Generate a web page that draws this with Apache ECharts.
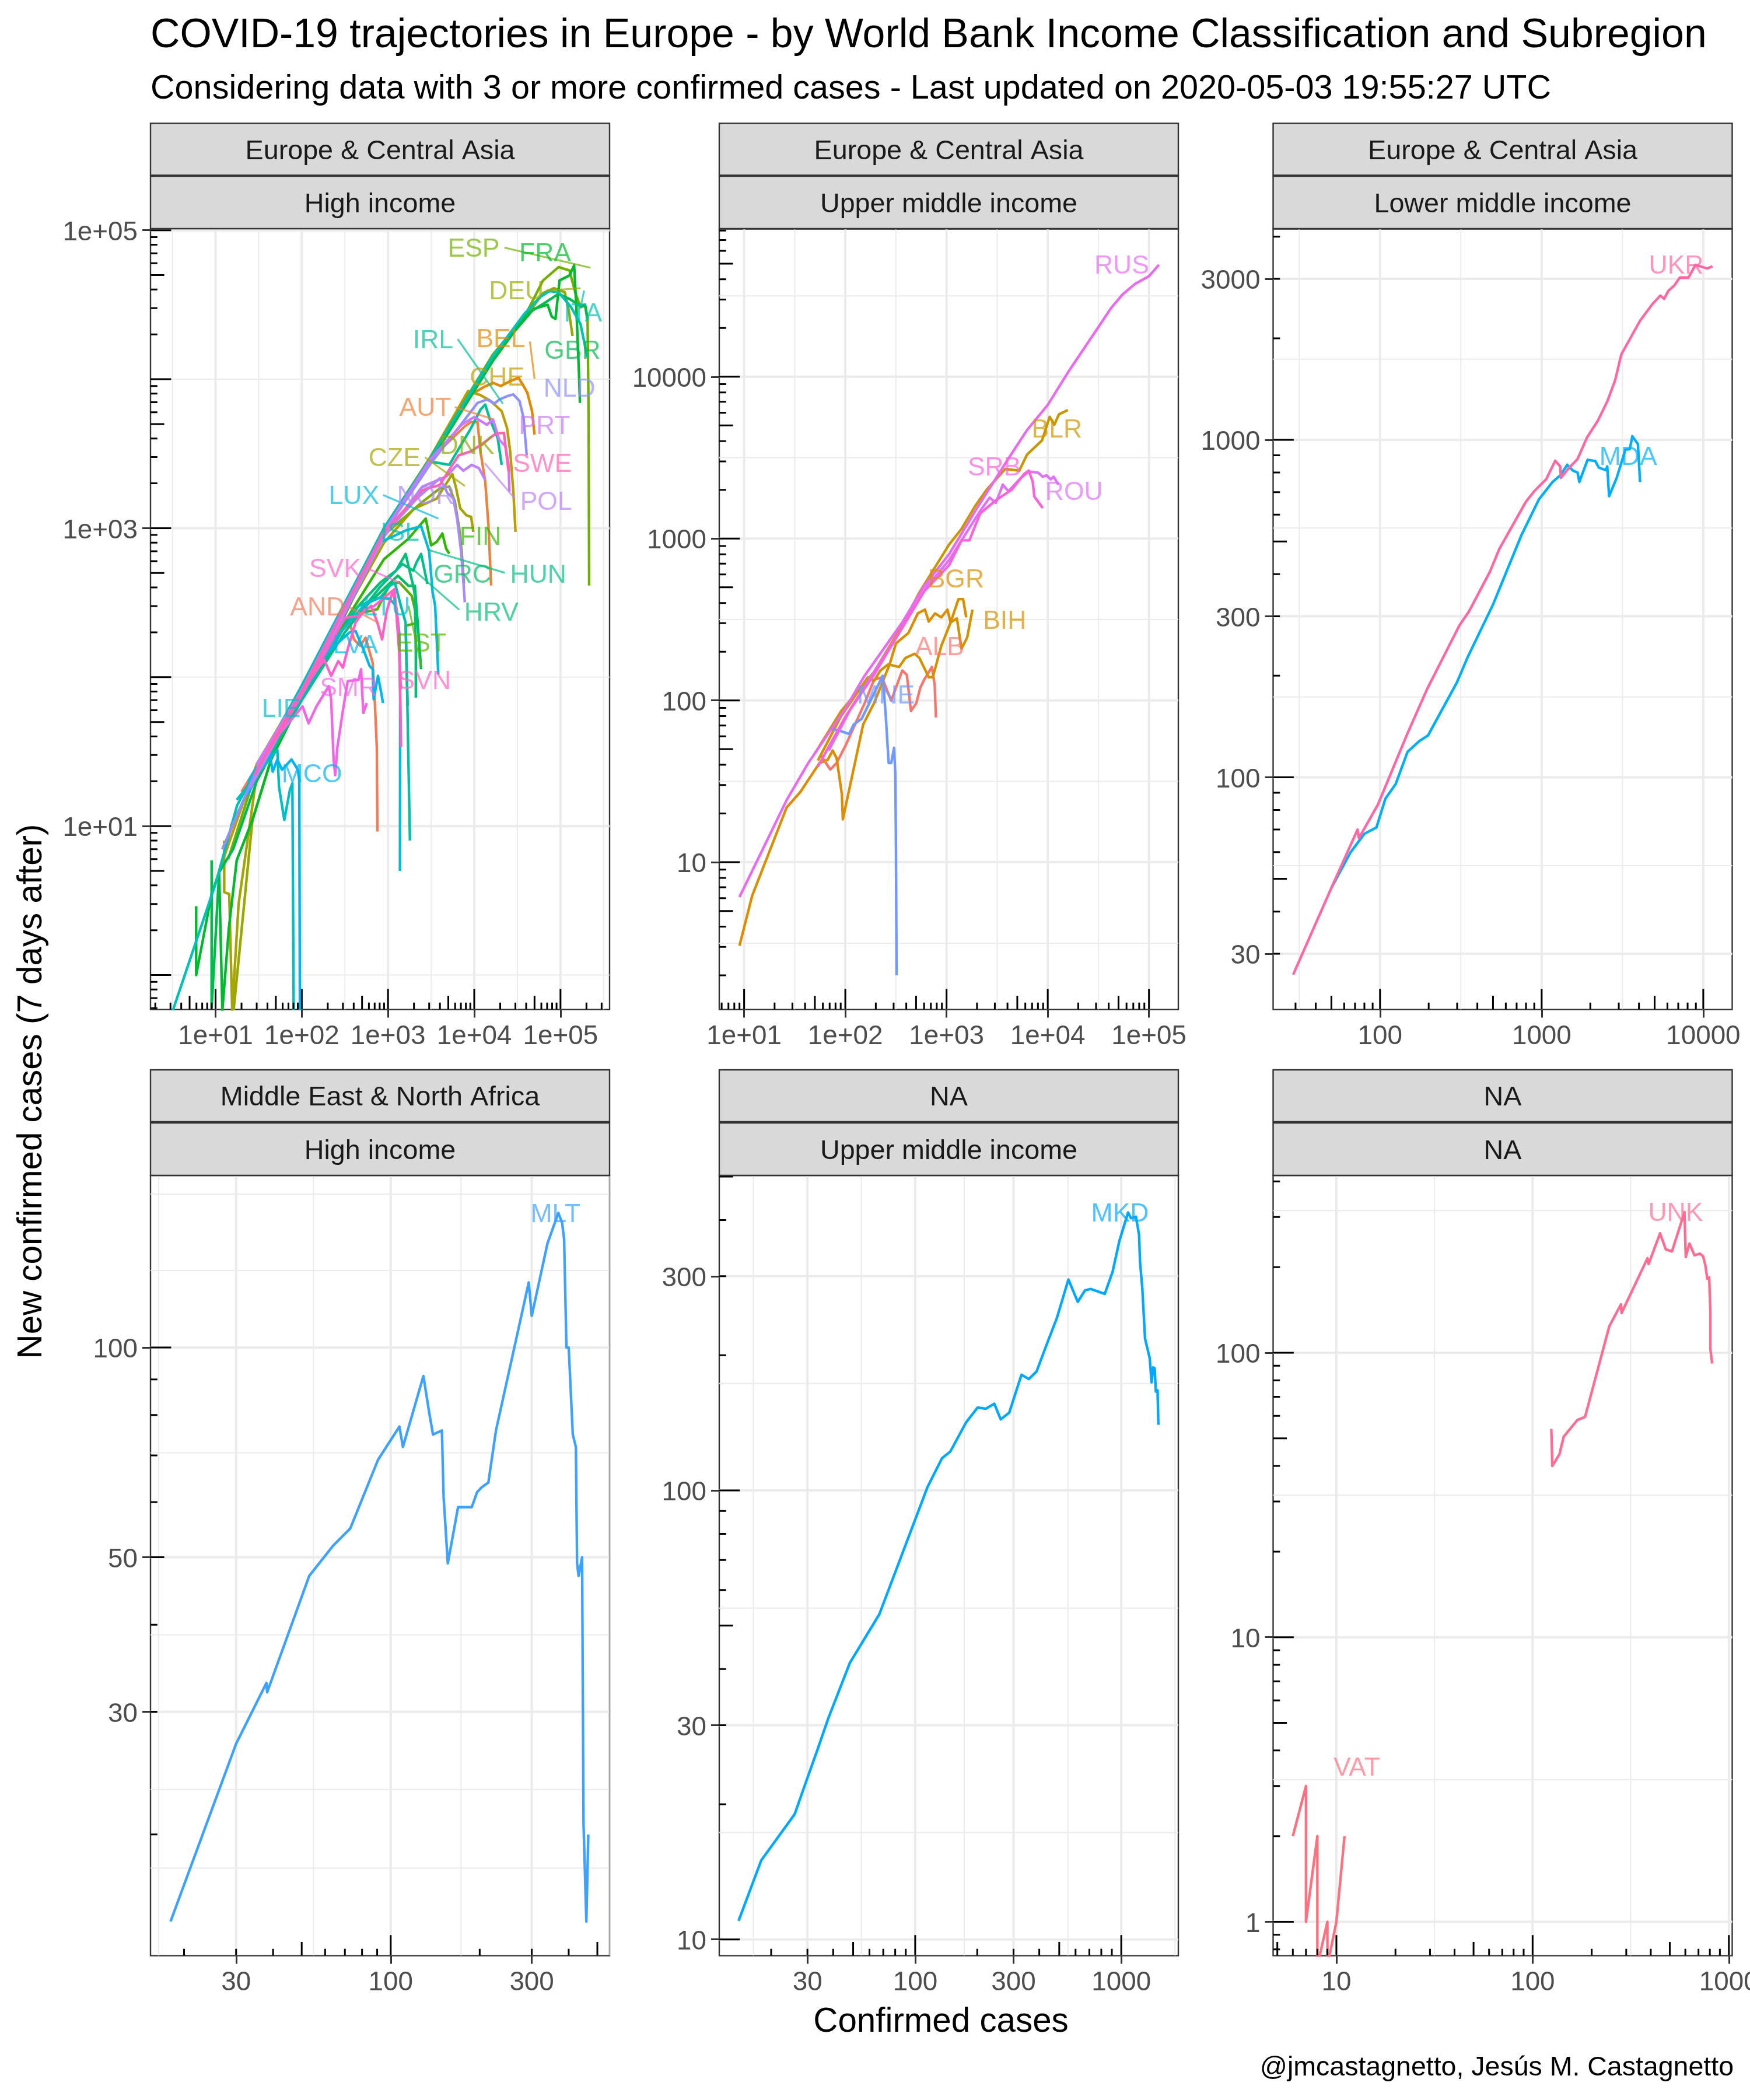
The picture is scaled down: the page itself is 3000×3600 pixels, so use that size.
<!DOCTYPE html>
<html><head><meta charset="utf-8">
<script src="https://cdn.jsdelivr.net/npm/echarts@6/dist/echarts.min.js"></script>
<style>html,body{margin:0;padding:0;background:#fff}#c{width:3000px;height:3600px}</style>
</head><body><div id="c"></div>
<script>
// ---------- tick breaks and labels ----------
const xBreaksA=[10,100,1000,10000,100000], xLabelsA=['1e+01','1e+02','1e+03','1e+04','1e+05'];
const yBreaksA=[10,1000,100000], yLabelsA=['1e+01','1e+03','1e+05'];
const yMinorA=[1,100,10000], xMinorA=[3.16,31.6,316,3162,31623,316228];
const xBreaksB=[10,100,1000,10000,100000], xLabelsB=xLabelsA;
const yBreaksB=[10,100,1000,10000], yLabelsB=['10','100','1000','10000'];
const yMinorB=[3.16,31.6,316,3162,31623], xMinorB=[31.6,316,3162,31623];
const xBreaksC=[100,1000,10000], xLabelsC=['100','1000','10000'];
const yBreaksC=[30,100,300,1000,3000], yLabelsC=['30','100','300','1000','3000'];
const yMinorC=[54.7,173,548,1734], xMinorC=[31.6,316,3162];
const xBreaksD=[30,100,300], xLabelsD=['30','100','300'];
const yBreaksD=[30,50,100], yLabelsD=['30','50','100'];
const yMinorD=[17.9,23.2,38.7,70.6,129,166], xMinorD=[16.4,54.8,173,550];
const xBreaksE=[30,100,300,1000], xLabelsE=['30','100','300','1000'];
const yBreaksE=[10,30,100,300], yLabelsE=['10','30','100','300'];
const yMinorE=[17.3,54.7,173], xMinorE=[16.4,54.8,173,551,1824];
const xBreaksF=[10,100,1000], xLabelsF=['10','100','1000'];
const yBreaksF=[1,10,100], yLabelsF=['1','10','100'];
const yMinorF=[3.16,31.6,316], xMinorF=[31.6,316];

// ---------- series values: [confirmed, new cases 7 days after] ----------
const AND=[[20,17],[52,42],[100,78],[198,131],[277,199],[361,232],[403,179],[476,162],[549,184],[664,125],[704,67],[741,34],[753,9.2]];
const AUT=[[12,7],[30,24],[100,80],[316,285],[900,960],[3100,2900],[7780,4830],[9200,5160],[10900,5160],[11800,3280],[13400,2060],[14600,1050],[15700,412]];
const BEL=[[15,10],[52,40],[100,78],[316,290],[900,950],[3100,2850],[9200,7900],[12900,8850],[16500,9460],[20300,9000],[27200,9820],[32700,10200],[36400,9230],[41300,8100],[46800,6100],[50000,4250]];
const CHE=[[11,5],[30,26],[100,85],[316,305],[900,1000],[3100,3000],[8470,8320],[11800,7820],[15200,7200],[20800,6100],[24000,4710],[26100,3280],[28400,1760],[30100,944]];
const CZE=[[12.6,8],[12.6,3.6],[14.4,3.5],[15.6,0.58],[18.5,3],[30,22],[100,80],[316,270],[900,800],[2000,1350],[3670,1580],[5570,2310],[6170,1850],[6870,1360],[8110,1220],[9200,1190],[9750,944]];
const DEU=[[16.2,0.58],[26.8,11],[44,28],[62.7,42],[100,76],[316,275],[900,950],[3100,2900],[16500,14000],[38000,25400],[62700,37800],[84000,40800],[112000,38400],[125000,28800],[138000,19500]];
const DNK=[[30,24],[100,80],[316,260],[900,900],[2500,1500],[3990,1850],[5130,1900],[5960,1510],[6700,995],[7160,692],[7590,424]];
const ESP=[[14,6],[30,24],[100,86],[316,310],[900,1000],[3100,3000],[16500,14700],[38000,26000],[62700,46000],[95100,56600],[127000,53700],[150000,37400],[171000,30400],[193000,31200],[206000,26000],[212000,5500],[215000,412]];
const EST=[[40,33],[100,78],[300,230],[500,270],[753,286],[1050,420],[1350,433],[1880,352],[2230,232],[1600,221],[1690,64]];
const FIN=[[40,30],[100,76],[316,235],[900,620],[1730,851],[2420,1070],[2740,1160],[3160,767],[3670,809],[4270,920],[4720,729],[5130,675]];
const FRA=[[5.96,2.9],[5.96,1],[9,3.5],[11,4.9],[12,0.58],[14.3,2.1],[17.6,5.9],[26.8,11],[44,27.9],[100,72],[316,265],[900,930],[3100,2800],[16500,13300],[29600,21100],[48800,29600],[71000,31600],[79200,26300],[87500,25400],[97500,46000],[127000,49700],[144000,58100],[152000,32000],[164000,10800],[168000,6930]];
const GBR=[[9,5.9],[9,0.6],[11,4.9],[16,7],[30,20],[100,74],[316,280],[900,950],[3100,2850],[16500,13600],[38000,26700],[62700,32000],[95100,37400],[127000,34600],[171000,31000],[193000,31600],[205000,25000]];
const GRC=[[40,30],[100,72],[316,220],[889,390],[1300,480],[1730,410],[2050,410],[2190,245],[2420,113]];
const HRV=[[40,32],[100,74],[300,210],[456,301],[819,433],[1240,519],[1600,671],[1960,410],[2050,352],[2100,146],[2100,72.6]];
const HUN=[[40,28],[100,70],[316,200],[800,400],[1470,575],[1960,519],[2140,590],[2420,671],[2860,422]];
const IRL=[[24,19],[100,80],[316,300],[900,960],[3100,2800],[5130,2660],[9200,4710],[11800,6250],[13400,6760],[15200,5360],[18700,4030],[20800,2660]];
const ISL=[[30,26],[100,80],[277,221],[456,301],[819,343],[1050,410],[1200,430],[1410,301],[1600,232],[1660,87],[1795,8]];
const ITA=[[3.2,0.58],[10,4.1],[17.8,13.8],[52,44],[100,88],[316,316],[906,1010],[3100,2950],[16500,14300],[38000,27400],[57700,35500],[74100,39000],[95100,38400],[133000,30400],[171000,23400],[205000,14000]];
const LIE=[[17.6,15],[52,32.6],[54.4,18.4],[62.7,11],[72.8,17.5],[77.8,19.4],[79.2,3],[80.5,0.58]];
const LTU=[[40,33],[100,80],[277,199],[540,309],[819,343],[1050,334],[1240,301],[1350,199],[1383,78],[1375,5]];
const LUX=[[24,20],[100,82],[316,312],[800,800],[1600,964],[2420,1030],[2990,706],[3290,371],[3520,301],[3670,179],[3830,104]];
const LVA=[[40,32],[100,74],[198,146],[356,199],[420,204],[517,154],[611,119],[664,113],[681,71],[765,102],[819,83],[875,67]];
const MCO=[[23.6,16.2],[37.3,27.9],[42.4,30.9],[46,23.2],[52,28],[59,23.9],[76,28],[90,23.9],[93.5,20.4],[95,0.58]];
const NLD=[[12,7],[30,24],[100,78],[316,285],[900,930],[3100,2700],[7780,5360],[10900,6930],[14000,7300],[17200,6880],[19500,7300],[24000,7690],[28400,7900],[33500,7130],[37300,5500],[40600,3080]];
const NOR=[[30,25],[100,80],[316,290],[900,900],[2200,1600],[3990,2160],[4920,1710],[5720,1580],[6320,1160],[7050,692],[7780,318]];
const POL=[[25,18],[100,78],[316,270],[900,880],[2500,1900],[4720,2220],[6320,2660],[7470,2430],[9350,2660],[11300,2530],[13400,2110]];
const PRT=[[30,26],[100,82],[316,300],[900,950],[3100,2900],[7160,4950],[10000,5580],[14000,4950],[16500,5360],[19500,3930],[23000,3540],[25000,2660],[25600,1760]];
const SMR=[[35.8,28.3],[48,38],[69.8,49],[102,63.7],[120,49],[148,63.7],[206,87],[219,71],[234,27.9],[244,22],[259,34],[301,60.5],[341,94],[456,96],[487,113],[517,57.5],[567,67]];
const SVK=[[40,32],[100,80],[182,131],[219,102],[265,128],[300,116],[341,154],[420,232],[540,286],[693,301],[1190,390],[1350,146],[1409,83]];
const SVN=[[40,31],[100,76],[316,250],[456,258],[637,301],[753,232],[853,179],[968,279],[1143,380],[1294,245],[1350,154],[1383,78],[1419,34]];
const SWE=[[28,22],[100,80],[316,295],[900,940],[2500,1800],[3990,1950],[5570,2660],[6590,3080],[9200,3280],[12300,3670],[17900,4330],[22100,4360],[23400,3280],[25000,2400]];

const ALB=[[57,46],[71,37.4],[82,41],[101,53],[155,96],[192,134],[230,139],[284,99.5],[365,153],[405,144],[445,86],[502,96],[551,120],[600,134],[717,161],[764,124],[785,78.5]];
const BGR=[[9,3.05],[12,6.2],[26.3,21.8],[36,27.2],[55.5,41],[67,43],[75,49],[82,44],[92.5,26.2],[94.5,18.4],[150,71],[192,96],[274,167],[316,225],[420,261],[520,345],[612,364],[667,307],[770,345],[887,326],[1021,364],[1097,303],[1310,422],[1458,422],[1565,326]];
const BIH=[[53.5,42.5],[91,80],[167,139],[192,132],[222,153],[265,167],[340,161],[392,183],[484,194],[539,183],[667,139],[731,139],[887,217],[1097,303],[1265,321],[1406,209],[1600,245],[1803,364]];
const BLR=[[50,47],[91,86],[192,150],[365,291],[539,465],[1059,918],[1406,1148],[1936,1603],[2483,2000],[3800,2692],[5234,2630],[6256,3311],[8790,4046],[10440,5650],[11610,5058],[12900,5861],[15780,6220]];
const MNE=[[70,67],[88,65],[109,62],[121,71],[145,77],[234,142],[250,83],[268,41],[284,41],[303,51],[312,35],[316,13.5],[321,2]];
const ROU=[[68.5,49],[117,92.5],[340,261],[644,508],[1059,736],[2153,1486],[2667,1791],[3076,1663],[3597,2153],[4083,1960],[5430,2371],[6490,2594],[8020,2557],[8930,2410],[9730,2460],[10670,2323],[11450,2410],[12740,2155]];
const RUS=[[9,6.1],[26.4,24.3],[43,41],[100,89],[155,142],[365,303],[600,508],[1059,800],[2005,1545],[4083,3119],[6250,4688],[10000,6700],[15780,10600],[31000,19900],[42660,26800],[54700,32200],[72600,37400],[100000,41800],[125600,49200]];
const SRB=[[53.5,39],[101,80],[192,144],[365,281],[600,472],[1059,684],[1406,975],[1680,975],[2153,1432],[3076,1726],[4385,2000],[5820,2500],[6490,2630],[7110,2240],[7370,1816],[8930,1545]];

const MDA=[[50,47],[65.8,60],[80,68],[95,71],[108,86.5],[125,95.5],[148,119],[175,128],[198,133],[299,191],[350,228],[500,325],[747,520],[963,667],[1167,750],[1303,785],[1439,843],[1560,811],[1667,800],[1711,750],[1923,873],[2148,865],[2256,828],[2489,813],[2546,834],[2613,681],[2911,771],[3296,935],[3510,938],[3639,1025],[3940,972],[4063,750]];
const UKR=[[29,26],[50,47],[72.6,70],[74,66],[97,83],[147,134],[196,183],[310,282],[355,310],[479,407],[547,475],[798,655],[904,706],[1066,764],[1213,867],[1303,834],[1315,771],[1458,820],[1667,877],[1905,1015],[2228,1140],[2548,1301],[2846,1500],[3112,1792],[4064,2255],[4853,2529],[5430,2675],[5728,2618],[6067,2761],[6632,2871],[7158,3027],[8100,3027],[8950,3300],[10600,3220],[11400,3270]];

const MLT=[[18,15],[30,27],[38,33],[38.2,32],[53,47],[64,52],[73,55],[90.6,69],[107,77],[110,72],[129,91],[135,80.6],[139,75],[149,76],[151,61],[156,49],[169,59],[188,59],[196,62],[203,63],[214,64],[227,76],[293,124],[300,111],[339,141],[369,156],[380,151],[386,143],[393,100],[400,100],[413,75],[423,72],[427,49],[432,47],[444,50],[449,20.7],[459,15],[466,20]];
const MKD=[[13.9,11],[17.9,15],[26,19],[30,22.9],[33.6,26.5],[37.8,31],[48.2,41.3],[67,53],[115,102],[135,118],[148,122],[177,142],[201,153],[220,152],[242,156],[260,144],[286,149],[328,181],[356,177],[388,184],[439,214],[487,242],[554,295],[615,263],[667,279],[710,281],[832,274],[908,307],[980,360],[1079,416],[1114,404],[1178,407],[1220,371],[1233,323],[1265,282],[1304,218],[1374,197],[1403,174],[1428,188],[1452,187],[1472,166],[1500,167],[1514,140]];
const UNK=[[124.5,54],[126,40],[137,44],[144,50.7],[169,58],[185,59.5],[246,124],[282,148],[284,138],[385,215],[390,205],[446,263],[477,231],[513,227],[594,312],[603,217],[630,242],[668,220],[713,223],[740,218],[760,202],[776,182],[794,184],[805,139],[805,103],[822,91.6]];
const VAT=[[6,2],[7,3],[7,1],[8,2],[8,0.7],[9,1],[9,0.7],[10,1],[11,2]];

// ---------- repelled text labels: [code, confirmed, new cases] ----------
const labelsA=[['ESP',9840,76000],['FRA',66400,70700],['DEU',30800,39400],['ITA',182000,28100],['IRL',3330,18600],['BEL',20300,18900],['GBR',138000,15700],['CHE',18400,10400],['NLD',127000,8770],['AUT',2700,6480],['PRT',65300,4910],['DNK',8260,3630],['SWE',61700,2730],['CZE',1190,3000],['POL',68100,1520],['LUX',403,1670],['NOR',2740,1670],['ISL',1375,944],['FIN',11800,883],['SVK',244,540],['HUN',55300,494],['GRC',7280,494],['HRV',15800,275],['AND',152,299],['LTU',968,299],['LVA',420,166],['EST',2420,170],['SMR',349,86],['SVN',2630,95.5],['LIE',57.7,62],['MCO',131,22.6]];
const leadersA=[['ESP',22400,76400,223000,56000],['DEU',68100,39400,171000,40800],['ITA',188000,39400,171000,30400],['IRL',6430,18600,21500,6840],['BEL',44200,17900,50000,10070],['AUT',5950,6490,16500,5400],['CZE',2680,2990,7780,1920],['POL',13200,2730,29600,1580],['LUX',875,1670,3830,1160],['HUN',2860,718,22600,502],['HRV',2010,521,6700,283],['SVK',562,540,1440,424],['AND',361,293,765,232],['EST',1730,301,2420,118]];
const labelsB=[['RUS',53800,49200],['BLR',12300,4770],['SRB',2970,2790],['ROU',18200,1970],['BGR',1240,568],['BIH',3750,314],['ALB',855,217],['MNE',252,109]];
const labelsC=[['UKR',6800,3300],['MDA',3430,895]];
const labelsD=[['MLT',361,156]];
const labelsE=[['MKD',986,416]];
const labelsF=[['UNK',535,312],['VAT',12.7,3.5]];

// ---------- colours: ggplot hue palette over every country code ----------
const allCodes=['ALB','AND','AUT','BEL','BGR','BIH','BLR','CHE','CYP','CZE','DEU','DNK','ESP','EST','FIN','FRA','GBR','GRC','HRV','HUN','IRL','ISL','ITA','LIE','LTU','LUX','LVA','MCO','MDA','MKD','MLT','MNE','NLD','NOR','POL','PRT','ROU','RUS','SMR','SRB','SVK','SVN','SWE','UKR','UNK','VAT'];
function hcl(h,c,l){
  const a=h*Math.PI/180,Yn=100,Xn=95.047,Zn=108.883;
  const un=4*Xn/(Xn+15*Yn+3*Zn),vn=9*Yn/(Xn+15*Yn+3*Zn);
  const Y=Yn*Math.pow((l+16)/116,3),u=c*Math.cos(a)/(13*l)+un,v=c*Math.sin(a)/(13*l)+vn;
  const X=9*Y*u/(4*v),Z=-X/3-5*Y+3*Y/v;
  const lin=[3.2406*X-1.5372*Y-.4986*Z,-.9689*X+1.8758*Y+.0415*Z,.0557*X-.2040*Y+1.0570*Z].map(t=>t/100);
  const g=lin.map(t=>{t=Math.max(0,Math.min(1,t));return Math.round(255*(t<=.0031308?12.92*t:1.055*Math.pow(t,1/2.4)-.055));});
  return '#'+g.map(t=>t.toString(16).padStart(2,'0')).join('');
}
const colorOf={};allCodes.forEach((k,i)=>colorOf[k]=hcl(15+360*i/allCodes.length,100,65));

// ---------- panels ----------
const FONT='"Liberation Sans",Arial,sans-serif';
const panelX=[258,1233,2182.5], panelW=787;
const rows=[{s1:[211.5,300.5],s2:[302,392],t:392.5,b:1730.6},{s1:[1834,1923],s2:[1925,2015],t:2015,b:3352.6}];
const panels=[
 {col:0,row:0,st:['Europe & Central Asia','High income'],xr:[1.76,371000],yr:[0.587,102000],xb:xBreaksA,xl:xLabelsA,yb:yBreaksA,yl:yLabelsA,xm:xMinorA,ym:yMinorA,labels:labelsA,leaders:leadersA,
  lines:{AND,AUT,BEL,CHE,CZE,DEU,DNK,ESP,EST,FIN,FRA,GBR,GRC,HRV,HUN,IRL,ISL,ITA,LIE,LTU,LUX,LVA,MCO,NLD,NOR,POL,PRT,SMR,SVK,SVN,SWE}},
 {col:1,row:0,st:['Europe & Central Asia','Upper middle income'],xr:[5.68,195000],yr:[1.23,81900],xb:xBreaksB,xl:xLabelsB,yb:yBreaksB,yl:yLabelsB,xm:xMinorB,ym:yMinorB,labels:labelsB,leaders:[],lines:{ALB,BGR,BIH,BLR,MNE,ROU,RUS,SRB}},
 {col:2,row:0,st:['Europe & Central Asia','Lower middle income'],xr:[21.8,15100],yr:[20.5,4217],xb:xBreaksC,xl:xLabelsC,yb:yBreaksC,yl:yLabelsC,xm:xMinorC,ym:yMinorC,labels:labelsC,leaders:[],lines:{MDA,UKR}},
 {col:0,row:1,st:['Middle East & North Africa','High income'],xr:[15.4,550],yr:[13.4,176.6],xb:xBreaksD,xl:xLabelsD,yb:yBreaksD,yl:yLabelsD,xm:xMinorD,ym:yMinorD,labels:labelsD,leaders:[],lines:{MLT}},
 {col:1,row:1,st:['NA','Upper middle income'],xr:[11.2,1892],yr:[9.2,503],xb:xBreaksE,xl:xLabelsE,yb:yBreaksE,yl:yLabelsE,xm:xMinorE,ym:yMinorE,labels:labelsE,leaders:[],lines:{MKD}},
 {col:2,row:1,st:['NA','NA'],xr:[4.76,1040],yr:[0.76,420],xb:xBreaksF,xl:xLabelsF,yb:yBreaksF,yl:yLabelsF,xm:xMinorF,ym:yMinorF,labels:labelsF,leaders:[],lines:{UNK,VAT}}
];

function logTicks(r){ // annotation_logticks positions: decade start long, 5 medium, others short
  const out=[];
  for(let k=Math.floor(Math.log10(r[0]));k<=Math.ceil(Math.log10(r[1]));k++)
    for(let d=1;d<=9;d++){const v=d*Math.pow(10,k);if(v>=r[0]&&v<=r[1])out.push({v,len:d===1?35.4:d===5?23.6:11.8});}
  return out;
}
function segSeries(idx,items,z){
  return {type:'custom',xAxisIndex:idx,yAxisIndex:idx,z,silent:true,animation:false,clip:true,
    data:items.map(it=>it.from),
    renderItem(params,api){
      const it=items[params.dataIndex],a=api.coord(it.from);
      const b=it.to?api.coord(it.to):[a[0]+(it.dx||0),a[1]+(it.dy||0)];
      return {type:'line',shape:{x1:a[0],y1:a[1],x2:b[0],y2:b[1]},style:{stroke:it.c,lineWidth:it.w,opacity:it.o==null?1:it.o}};
    }};
}
const grids=[],xAxes=[],yAxes=[],series=[],gfx=[];
panels.forEach((p,i)=>{
  const left=panelX[p.col],R=rows[p.row];
  grids.push({left,top:R.t,width:panelW,height:R.b-R.t,show:true,backgroundColor:'#fff',borderColor:'#333333',borderWidth:2.4,containLabel:false,outerBoundsMode:'none'});
  const fmt=(br,lb)=>v=>{let best=0;br.forEach((b,j)=>{if(Math.abs(Math.log(b/v))<Math.abs(Math.log(br[best]/v)))best=j;});return lb[best];};
  const ax=(br,lb,r,margin,labelExtra,extra)=>Object.assign({type:'log',logBase:10,gridIndex:i,min:r[0],max:r[1],
    axisLine:{show:false},splitLine:{show:false},minorTick:{show:false},minorSplitLine:{show:false},
    axisTick:{show:true,customValues:br,length:14,inside:false,lineStyle:{color:'#333333',width:3}},
    axisLabel:Object.assign({show:true,customValues:br,formatter:fmt(br,lb),color:'#4D4D4D',fontSize:45.8,fontFamily:FONT,margin,hideOverlap:false,showMinLabel:true,showMaxLabel:true},labelExtra)},extra);
  xAxes.push(ax(p.xb,p.xl,p.xr,24,{},{position:'bottom'}));
  yAxes.push(ax(p.yb,p.yl,p.yr,22,{verticalAlign:'top',lineHeight:9},{position:'left'}));
  // panel grid lines
  const gl=[];
  p.xm.forEach(v=>{if(v>=p.xr[0]&&v<=p.xr[1])gl.push({from:[v,p.yr[0]],to:[v,p.yr[1]],c:'#EBEBEB',w:2});});
  p.ym.forEach(v=>{if(v>=p.yr[0]&&v<=p.yr[1])gl.push({from:[p.xr[0],v],to:[p.xr[1],v],c:'#EBEBEB',w:2});});
  p.xb.forEach(v=>gl.push({from:[v,p.yr[0]],to:[v,p.yr[1]],c:'#EBEBEB',w:4}));
  p.yb.forEach(v=>gl.push({from:[p.xr[0],v],to:[p.xr[1],v],c:'#EBEBEB',w:4}));
  series.push(segSeries(i,gl,1));
  // country lines
  Object.keys(p.lines).forEach(code=>{
    series.push({type:'line',name:code,xAxisIndex:i,yAxisIndex:i,data:p.lines[code],showSymbol:false,symbol:'none',clip:true,z:3,animation:false,silent:true,
      lineStyle:{color:colorOf[code],width:4.4,join:'round'},itemStyle:{color:colorOf[code]},emphasis:{disabled:true}});
  });
  // log ticks
  const lt=[];
  logTicks(p.xr).forEach(t=>lt.push({from:[t.v,p.yr[0]],dy:-t.len,c:'#000',w:3}));
  logTicks(p.yr).forEach(t=>lt.push({from:[p.xr[0],t.v],dx:t.len,c:'#000',w:3}));
  series.push(segSeries(i,lt,4));
  // leader segments
  if(p.leaders.length)series.push(segSeries(i,p.leaders.map(l=>({from:[l[1],l[2]],to:[l[3],l[4]],c:colorOf[l[0]],w:3.2,o:.7})),5));
  // text labels
  series.push({type:'custom',xAxisIndex:i,yAxisIndex:i,z:6,silent:true,animation:false,clip:false,data:p.labels.map(l=>[l[1],l[2]]),
    renderItem(params,api){const l=p.labels[params.dataIndex],a=api.coord([l[1],l[2]]);
      return {type:'text',x:a[0],y:a[1]+3,style:{text:l[0],fill:colorOf[l[0]],opacity:.7,fontSize:44.5,fontFamily:FONT,align:'center',verticalAlign:'middle'}};}});
  // strips
  [R.s1,R.s2].forEach((s,j)=>{
    gfx.push({type:'rect',shape:{x:left,y:s[0],width:panelW,height:s[1]-s[0]},style:{fill:'#D9D9D9',stroke:'#333333',lineWidth:2.4},z:10});
    gfx.push({type:'text',x:left+panelW/2,y:(s[0]+s[1])/2+4,style:{text:p.st[j],fill:'#1A1A1A',fontSize:46.7,fontFamily:FONT,align:'center',verticalAlign:'middle'},z:11});
  });
});
gfx.push({type:'text',x:258,y:62,style:{text:'COVID-19 trajectories in Europe - by World Bank Income Classification and Subregion',fill:'#000',fontSize:69.8,fontFamily:FONT,align:'left',verticalAlign:'middle'},z:11});
gfx.push({type:'text',x:258,y:153,style:{text:'Considering data with 3 or more confirmed cases - Last updated on 2020-05-03 19:55:27 UTC',fill:'#000',fontSize:57.6,fontFamily:FONT,align:'left',verticalAlign:'middle'},z:11});
gfx.push({type:'text',x:1613,y:3467,style:{text:'Confirmed cases',fill:'#000',fontSize:58.3,fontFamily:FONT,align:'center',verticalAlign:'middle'},z:11});
gfx.push({type:'text',x:55,y:1871,rotation:Math.PI/2,style:{text:'New confirmed cases (7 days after)',fill:'#000',fontSize:58.3,fontFamily:FONT,align:'center',verticalAlign:'middle'},z:11});
gfx.push({type:'text',x:2972,y:3545,style:{text:'@jmcastagnetto, Jesús M. Castagnetto',fill:'#000',fontSize:46.5,fontFamily:FONT,align:'right',verticalAlign:'middle'},z:11});

const chart=echarts.init(document.getElementById('c'),null,{renderer:'canvas',width:3000,height:3600,devicePixelRatio:1});
chart.setOption({backgroundColor:'#fff',animation:false,tooltip:{show:false},grid:grids,xAxis:xAxes,yAxis:yAxes,series,graphic:{elements:gfx}});
</script></body></html>
